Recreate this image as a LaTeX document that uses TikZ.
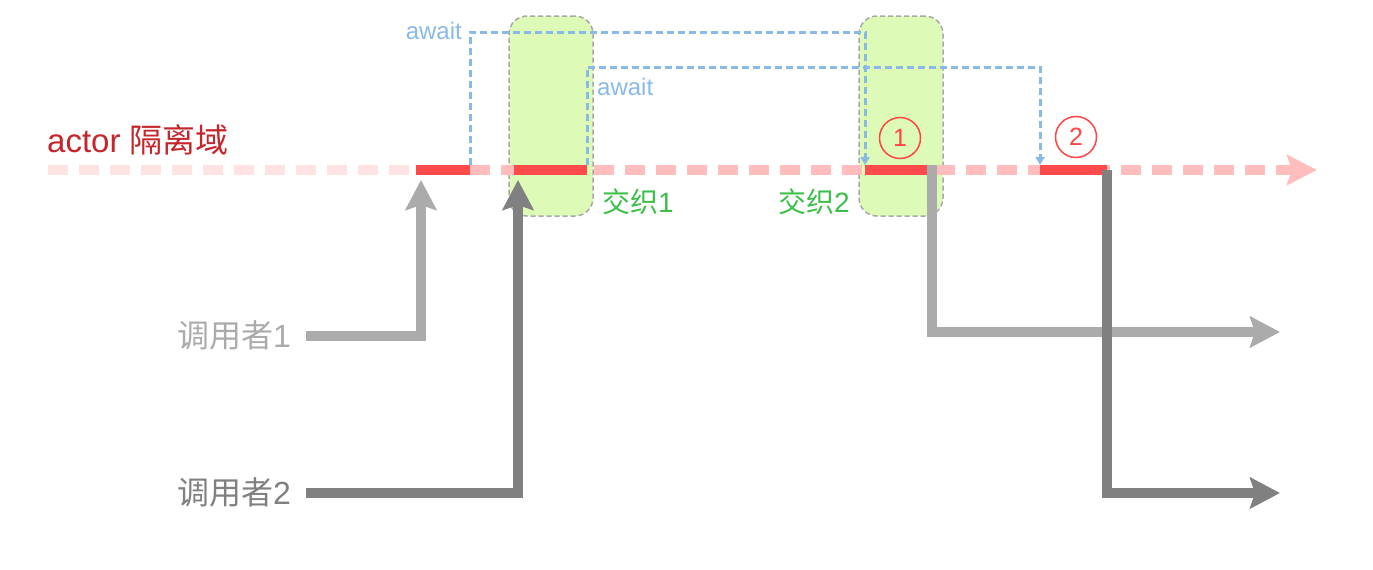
\documentclass[tikz,border=0pt]{standalone}
\usepackage{fontspec}
\setmainfont{Liberation Sans}
\newfontfamily\cjk{Noto Sans CJK SC}
\usetikzlibrary{arrows.meta}
\definecolor{pinkL}{HTML}{FFE3E3}
\definecolor{pinkM}{HTML}{FFBDBD}
\definecolor{segred}{HTML}{FF4B4B}
\definecolor{awaitblue}{HTML}{89B9E6}
\definecolor{zonefill}{HTML}{DDFAB6}
\definecolor{zoneedge}{HTML}{A8A8A8}
\definecolor{gLight}{HTML}{ABABAB}
\definecolor{gDark}{HTML}{808080}
\definecolor{actorred}{HTML}{C4262B}
\definecolor{zonegreen}{HTML}{3CBE4A}
\definecolor{numred}{HTML}{FF4444}
\tikzset{
  zone/.style={draw=zoneedge, fill=zonefill, line width=1.5pt, dash pattern=on 5pt off 3pt,
    rounded corners=18pt, minimum width=84pt, minimum height=200pt, inner sep=0pt},
  axisline/.style={line width=10pt, dash pattern=on 20pt off 11pt},
  seg/.style={line width=10pt, draw=segred},
  awaitline/.style={draw=awaitblue, line width=3pt, dash pattern=on 7pt off 4pt},
  awaittip/.style={-{Triangle[length=8pt,width=9pt]}},
  garrow/.style={line width=10pt, line join=miter, -{Stealth[length=30pt,width=31pt,inset=5pt]}},
  awaitlbl/.style={text=awaitblue, font=\fontsize{24}{27}\selectfont, inner sep=0pt},
  zonelbl/.style={text=zonegreen, font=\fontsize{28}{31}\selectfont, inner sep=0pt, anchor=west},
  callerlbl/.style={font=\fontsize{32}{36}\selectfont, inner sep=0pt, anchor=east},
  numcirc/.style={circle, draw=numred, line width=1.5pt, minimum size=41pt, inner sep=0pt,
    text=numred, font=\fontsize{25}{28}\selectfont}
}
\begin{document}
\begin{tikzpicture}[x=1pt,y=-1pt]
\useasboundingbox (0,0) rectangle (1373,570);
% zones
\node[zone] (z1) at (551,116) {};
\node[zone] (z2) at (901,116) {};
% axis
\coordinate (axL) at (48,170);
\coordinate (axA) at (416,170);
\coordinate (axB) at (470,170);
\coordinate (axE) at (1317,170);
\draw[axisline, draw=pinkL] (axL) -- (axA);
\draw[axisline, draw=pinkM, -{Stealth[length=30pt,width=30pt,inset=5pt]}] (axB) -- (axE);
\node[anchor=west, inner sep=0pt, text=actorred, font=\fontsize{33}{36}\selectfont] (actor) at (47,140) {actor {\cjk 隔离域}};
% red segments
\coordinate (s1a) at (416,170); \coordinate (s1b) at (470,170);
\coordinate (s2a) at (514,170); \coordinate (s2b) at (587,170);
\coordinate (s3a) at (865,170); \coordinate (s3b) at (932,170);
\coordinate (s4a) at (1040,170); \coordinate (s4b) at (1107,170);
\draw[seg] (s1a) -- (s1b);
\draw[seg] (s2a) -- (s2b);
\draw[seg] (s3a) -- (s3b);
\draw[seg] (s4a) -- (s4b);
% await lines
\coordinate (w1s) at (470,165); \coordinate (w1a) at (470,32);
\coordinate (w1b) at (865,32); \coordinate (w1e) at (865,165);
\coordinate (w2s) at (587,165); \coordinate (w2a) at (587,67);
\coordinate (w2b) at (1040,67); \coordinate (w2e) at (1040,165);
\draw[awaitline, awaittip] (w1s) -- (w1a) -- (w1b) -- (w1e);
\draw[awaitline, awaittip] (w2s) -- (w2a) -- (w2b) -- (w2e);
\node[awaitlbl, anchor=east] (aw1) at (462,31) {await};
\node[awaitlbl, anchor=west] (aw2) at (597,87) {await};
% circled numbers
\node[numcirc] (n1) at (900,138) {1};
\node[numcirc] (n2) at (1076,137) {2};
% callers
\node[callerlbl, text=gLight] (c1) at (291,335) {{\cjk 调用者}1};
\node[callerlbl, text=gDark] (c2) at (291,492) {{\cjk 调用者}2};
\coordinate (c1s) at (306,336); \coordinate (c1k) at (421,336); \coordinate (c1t) at (421,180);
\coordinate (c2s) at (306,493); \coordinate (c2k) at (518,493); \coordinate (c2t) at (518,180);
\draw[garrow, draw=gLight] (c1s) -- (c1k) -- (c1t);
\draw[garrow, draw=gDark] (c2s) -- (c2k) -- (c2t);
% outputs
\coordinate (o1s) at (932,165); \coordinate (o1k) at (932,332); \coordinate (o1t) at (1280,332);
\coordinate (o2s) at (1107,170); \coordinate (o2k) at (1107,493); \coordinate (o2t) at (1280,493);
\draw[garrow, draw=gLight] (o1s) -- (o1k) -- (o1t);
\draw[garrow, draw=gDark] (o2s) -- (o2k) -- (o2t);
% zone labels
\node[zonelbl] (j1) at (602,202) {{\cjk 交织}1};
\node[zonelbl] (j2) at (778,202) {{\cjk 交织}2};
\end{tikzpicture}
\end{document}
